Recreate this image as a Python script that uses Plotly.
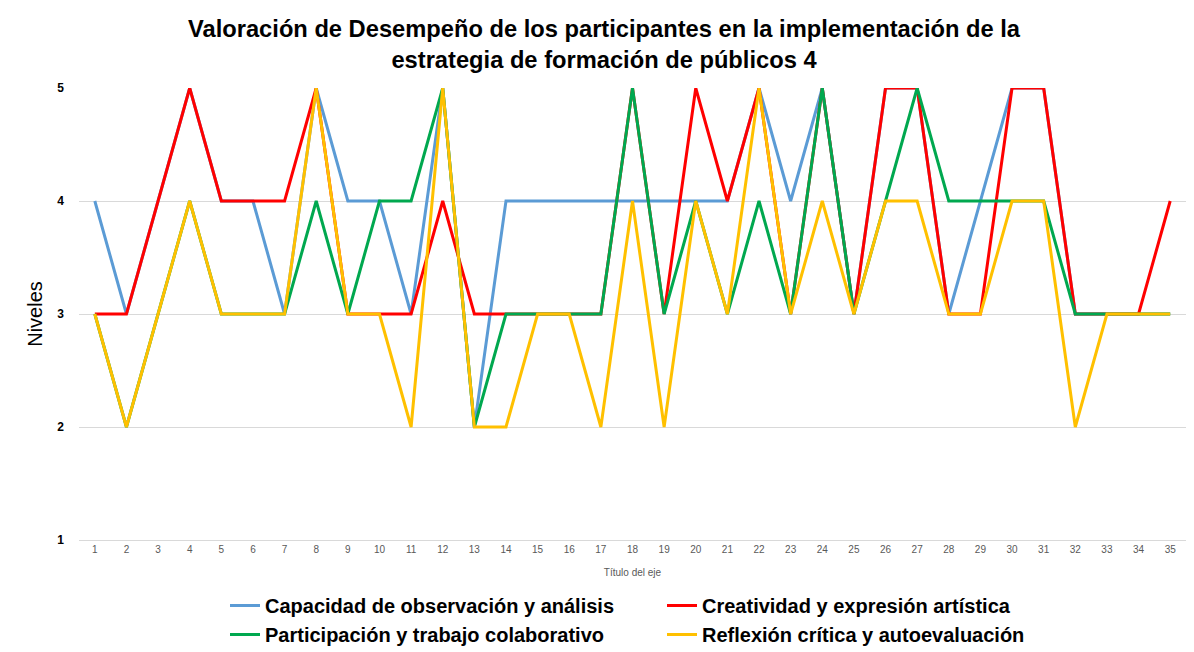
import plotly.graph_objects as go

x_vals = list(range(1, 36))
tick_labels = [str(i) for i in x_vals]

capacidad = [4, 3, 4, 5, 4, 4, 3, 5, 4, 4, 3, 5, 2, 4, 4, 4, 4, 4, 4, 4, 4, 5, 4, 5, 3, 5, 5, 3, 4, 5, 5, 3, 3, 3, 3]
creatividad = [3, 3, 4, 5, 4, 4, 4, 5, 3, 3, 3, 4, 3, 3, 3, 3, 3, 5, 3, 5, 4, 5, 3, 5, 3, 5, 5, 3, 3, 5, 5, 3, 3, 3, 4]
participacion = [3, 2, 3, 4, 3, 3, 3, 4, 3, 4, 4, 5, 2, 3, 3, 3, 3, 5, 3, 4, 3, 4, 3, 5, 3, 4, 5, 4, 4, 4, 4, 3, 3, 3, 3]
reflexion = [3, 2, 3, 4, 3, 3, 3, 5, 3, 3, 2, 5, 2, 2, 3, 3, 2, 4, 2, 4, 3, 5, 3, 4, 3, 4, 4, 3, 3, 4, 4, 2, 3, 3, 3]

series_names = ["Capacidad de observación y análisis", "Creatividad y expresión artística",
                "Participación y trabajo colaborativo", "Reflexión crítica y autoevaluación"]
series_values = [capacidad, creatividad, participacion, reflexion]
colors = ["#5B9BD5", "#FF0000", "#00A84F", "#FFC000"]

# the page body adds an 8px offset; figure coordinates = screen - 8
OFF = 8
W, H = 1194 - OFF, 652 - OFF
ml, mr, mt, mb = 79 - OFF, 8, 88 - OFF, 652 - 540
pw, ph = W - ml - mr, H - mt - mb

fig = go.Figure()
for name, vals, c in zip(series_names, series_values, colors):
    fig.add_trace(go.Scatter(x=x_vals, y=vals, name="<b>" + name + "</b>", mode="lines",
                             line=dict(color=c, width=3)))

def px_x(p):
    return (p - OFF - ml) / pw

def px_y(p):
    return (H - mb - (p - OFF)) / ph

fig.update_layout(
    width=W, height=H,
    margin=dict(l=ml, r=mr, t=mt, b=mb, autoexpand=False),
    paper_bgcolor="white", plot_bgcolor="white",
    font=dict(family="Liberation Sans, Arial, sans-serif", color="black"),
    title=dict(text="<b>Valoración de Desempeño de los participantes en la implementación de la<br>estrategia de formación de públicos 4</b>",
               x=(604 - OFF) / W, xref="container", xanchor="center",
               y=1 - (37 - OFF) / H, yref="container", yanchor="middle",
               font=dict(size=23.7, color="black")),
    xaxis=dict(range=[0.5, 35.5], tickmode="array", tickvals=x_vals, ticktext=tick_labels,
               automargin=False,
               showgrid=False, zeroline=False, showline=True, linecolor="#D9D9D9", linewidth=1,
               ticks="", tickfont=dict(size=10, color="#595959"),
               title=dict(text="Título del eje", font=dict(size=10, color="#595959"), standoff=14)),
    yaxis=dict(range=[1, 5], tickvals=[1, 2, 3, 4, 5], ticktext=["<b>1</b>", "<b>2</b>", "<b>3</b>", "<b>4</b>", "<b>5</b>"],
               automargin=False, ticklabelstandoff=14,
               showgrid=True, gridcolor="#D9D9D9", gridwidth=1, zeroline=False, showline=False,
               ticks="", tickfont=dict(size=12, color="black"),
               title=dict(text="Niveles", font=dict(size=20, color="black"), standoff=9)),
    legend=dict(orientation="h", x=px_x(225), xanchor="left", y=px_y(586), yanchor="top",
                entrywidth=392, entrywidthmode="pixels", font=dict(size=20, color="black"),
                itemwidth=30, tracegroupgap=0),
    showlegend=True,
)

fig.write_html("out.html")
